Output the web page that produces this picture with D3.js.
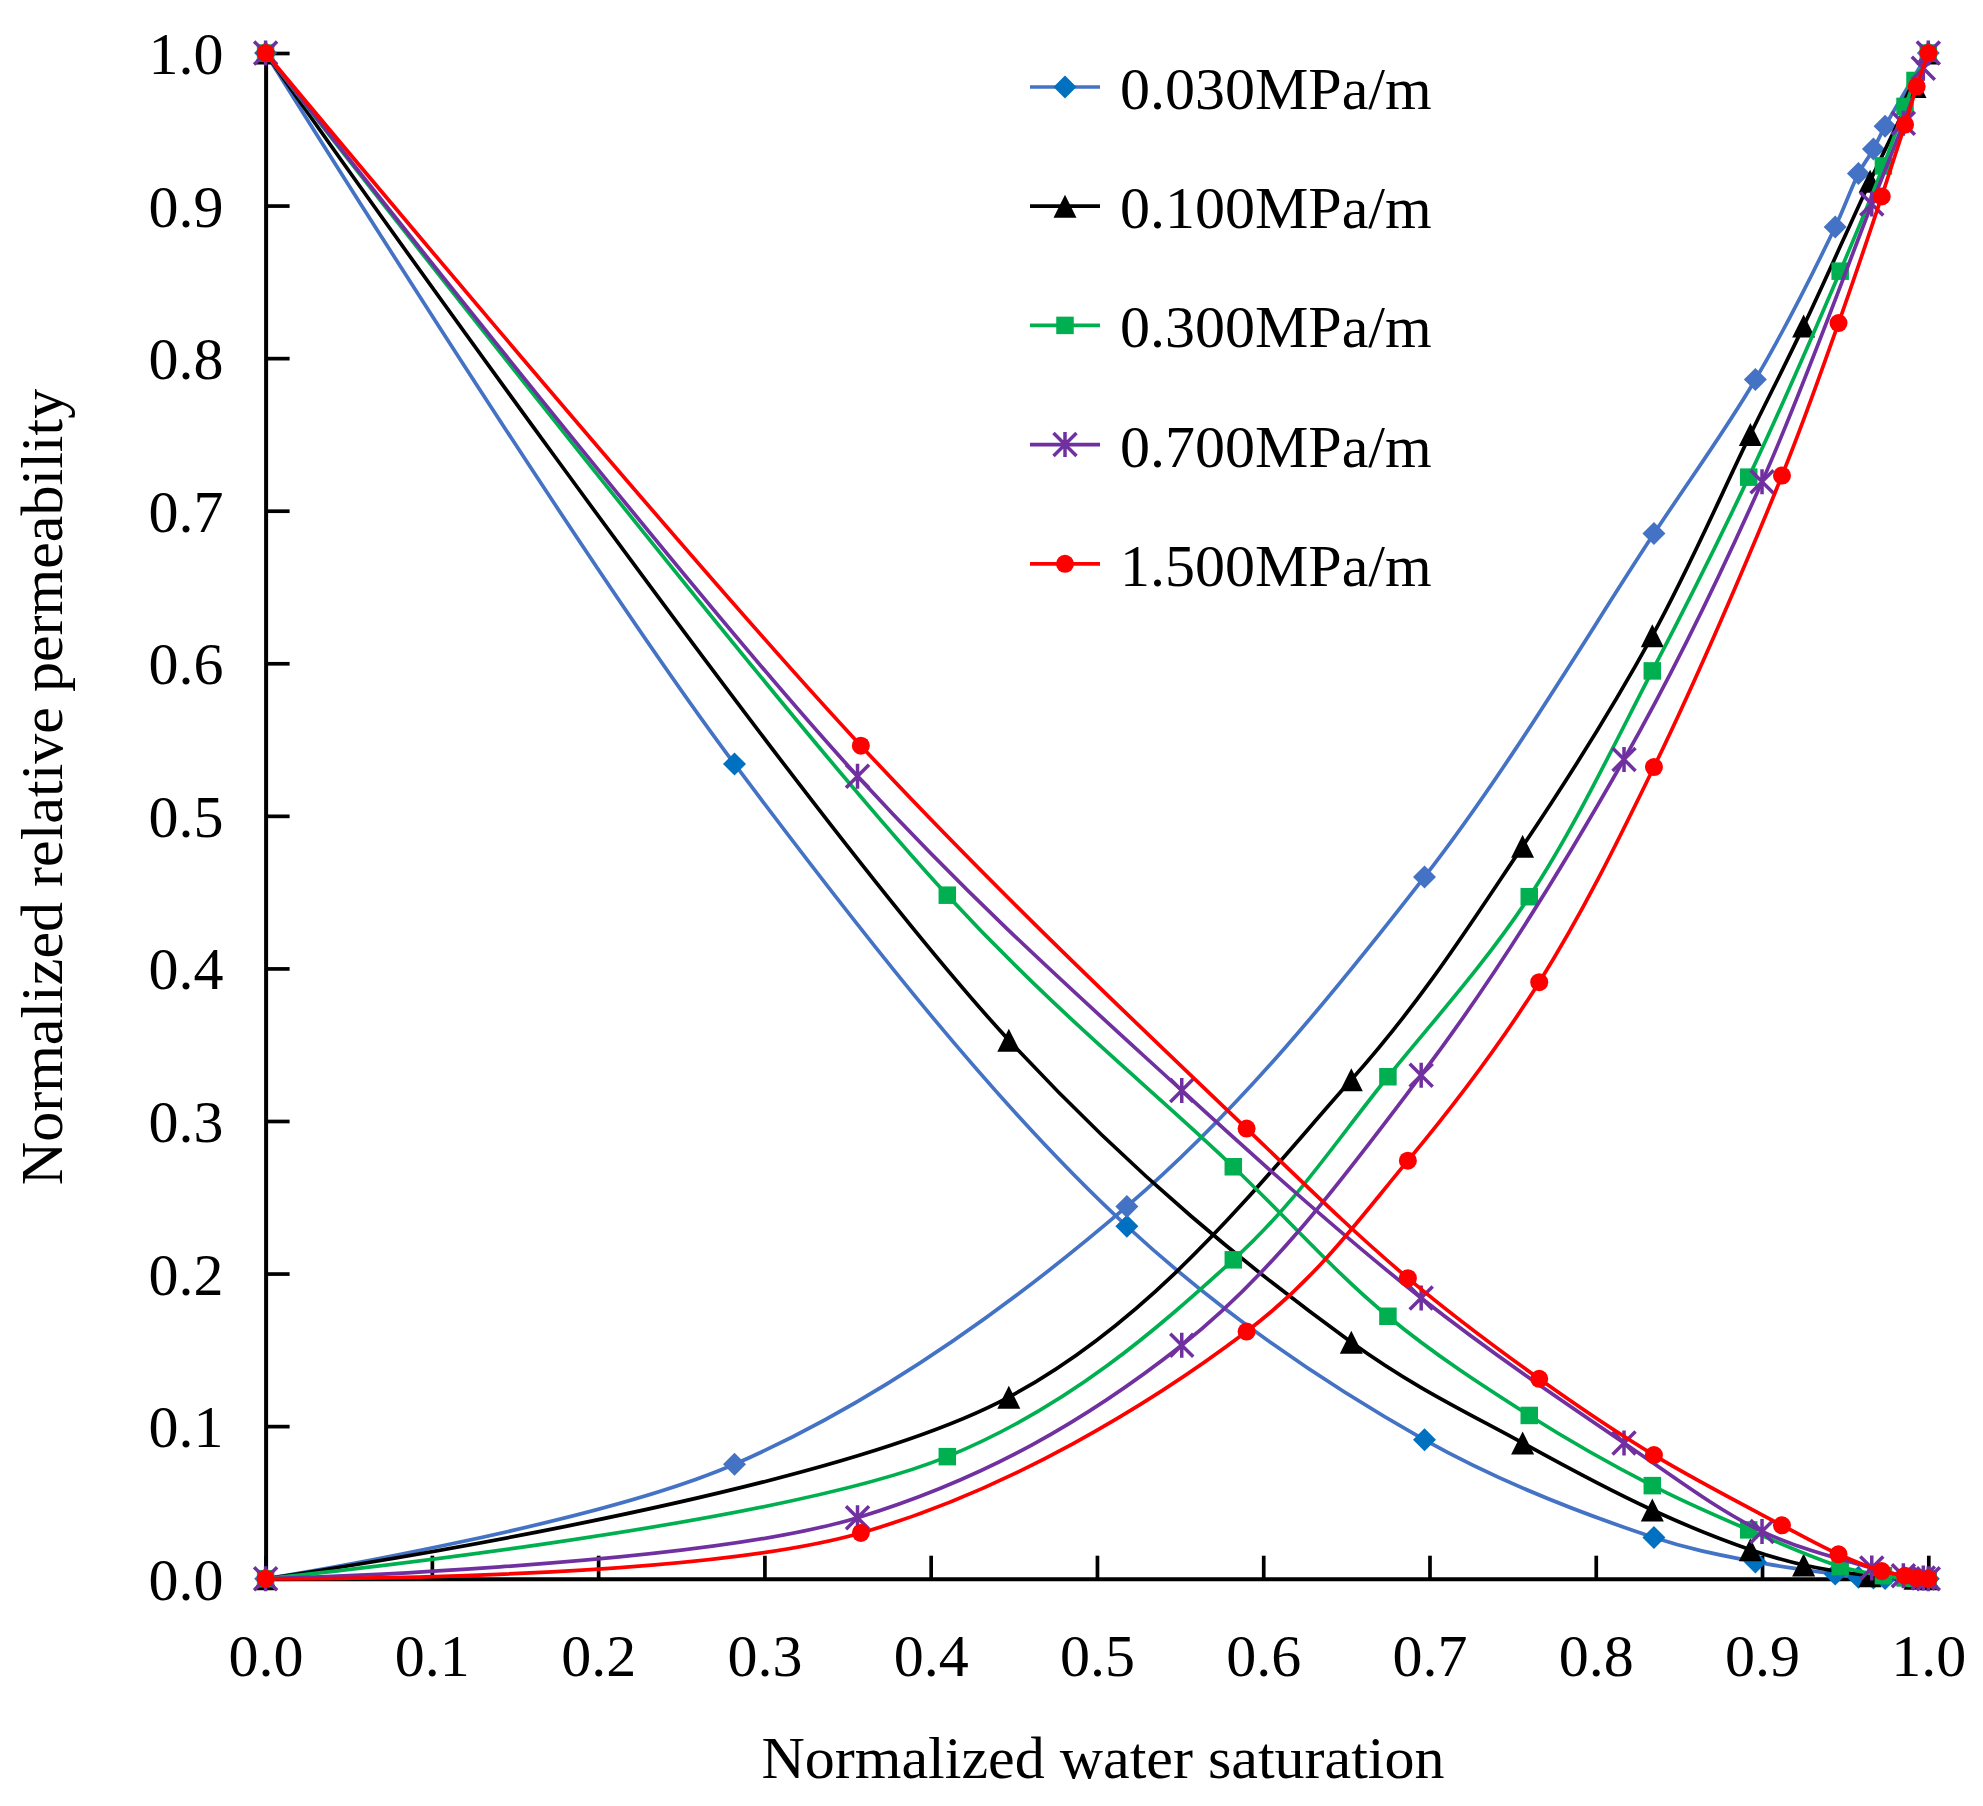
<!DOCTYPE html>
<html><head><meta charset="utf-8">
<script src="https://cdn.jsdelivr.net/npm/d3@7"></script>
<style>html,body{margin:0;padding:0;background:#fff;}svg{display:block;}</style>
</head><body>
<svg id="chart" width="1983" height="1806"></svg>
<script>
// ---- data ----
const seriesNames = ["0.030MPa/m", "0.100MPa/m", "0.300MPa/m", "0.700MPa/m", "1.500MPa/m"];
const xTicks = [0, 0.1, 0.2, 0.3, 0.4, 0.5, 0.6, 0.7, 0.8, 0.9, 1.0];
const yTicks = [0, 0.1, 0.2, 0.3, 0.4, 0.5, 0.6, 0.7, 0.8, 0.9, 1.0];

const sw030 = [0, 0.282, 0.518, 0.697, 0.835, 0.896, 0.944, 0.958, 0.967, 0.974, 1.0];
const krw030 = [0, 0.075, 0.244, 0.460, 0.685, 0.786, 0.886, 0.921, 0.937, 0.952, 1.0];
const kro030 = [1.0, 0.534, 0.231, 0.091, 0.027, 0.011, 0.003, 0.001, 0.0005, 0.0002, 0];

const sw100 = [0, 0.447, 0.653, 0.756, 0.834, 0.893, 0.925, 0.965, 0.992, 1.0];
const krw100 = [0, 0.119, 0.327, 0.480, 0.618, 0.750, 0.821, 0.916, 0.978, 1.0];
const kro100 = [1.0, 0.353, 0.155, 0.089, 0.045, 0.019, 0.009, 0.002, 0.0003, 0];

const sw300 = [0, 0.410, 0.582, 0.675, 0.760, 0.834, 0.892, 0.947, 0.973, 0.986, 0.992, 1.0];
const krw300 = [0, 0.080, 0.209, 0.329, 0.447, 0.595, 0.722, 0.857, 0.926, 0.965, 0.982, 1.0];
const kro300 = [1.0, 0.448, 0.270, 0.172, 0.107, 0.061, 0.032, 0.008, 0.002, 0.0005, 0.0002, 0];

const sw700 = [0, 0.356, 0.551, 0.695, 0.817, 0.900, 0.966, 0.985, 0.997, 1.0];
const krw700 = [0, 0.040, 0.153, 0.330, 0.537, 0.719, 0.901, 0.954, 0.990, 1.0];
const kro700 = [1.0, 0.526, 0.320, 0.184, 0.089, 0.031, 0.007, 0.002, 0.0005, 0];

const sw1500 = [0, 0.358, 0.590, 0.687, 0.766, 0.835, 0.912, 0.946, 0.972, 0.986, 0.993, 1.0];
const krw1500 = [0, 0.030, 0.162, 0.274, 0.391, 0.532, 0.723, 0.823, 0.906, 0.953, 0.978, 1.0];
const kro1500 = [1.0, 0.546, 0.295, 0.197, 0.131, 0.081, 0.035, 0.016, 0.005, 0.002, 0.0005, 0];

// ---- styles ----
const styles = [
  {line: "#4472C4", markerKro: "#0070C0", markerKrw: "#4472C4", marker: "diamond"},
  {line: "#000000", markerKro: "#000000", markerKrw: "#000000", marker: "triangle"},
  {line: "#00B050", markerKro: "#00B050", markerKrw: "#00B050", marker: "square"},
  {line: "#7030A0", markerKro: "#7030A0", markerKrw: "#7030A0", marker: "star"},
  {line: "#FF0000", markerKro: "#FF0000", markerKrw: "#FF0000", marker: "circle"}
];
const series = [
  {sw: sw030, krw: krw030, kro: kro030},
  {sw: sw100, krw: krw100, kro: kro100},
  {sw: sw300, krw: krw300, kro: kro300},
  {sw: sw700, krw: krw700, kro: kro700},
  {sw: sw1500, krw: krw1500, kro: kro1500}
];

const FONT = "'Liberation Serif','Times New Roman',serif";
const svg = d3.select("#chart");
svg.append("rect").attr("width", 1983).attr("height", 1806).attr("fill", "#fff");

const x = d3.scaleLinear().domain([0, 1]).range([265.6, 1928.3]);
const y = d3.scaleLinear().domain([0, 1]).range([1578.7, 53]);

// axes
const xAxis = d3.axisBottom(x).tickValues(xTicks).tickFormat(d3.format(".1f"))
  .tickSizeInner(-23).tickSizeOuter(0);
const gx = svg.append("g").attr("transform", `translate(0,${y(0)})`).call(xAxis);
gx.select(".domain").attr("stroke", "#000").attr("stroke-width", 4);
gx.selectAll(".tick line").attr("stroke", "#000").attr("stroke-width", 3.7);
gx.selectAll(".tick text").attr("y", 97).attr("dy", null)
  .attr("font-family", FONT).attr("font-size", 60).attr("fill", "#000");

const yAxis = d3.axisLeft(y).tickValues(yTicks).tickFormat(d3.format(".1f"))
  .tickSizeInner(-24).tickSizeOuter(0);
const gy = svg.append("g").attr("transform", `translate(${x(0)},0)`).call(yAxis);
gy.select(".domain").attr("stroke", "#000").attr("stroke-width", 4);
gy.selectAll(".tick line").attr("stroke", "#000").attr("stroke-width", 3.7);
gy.selectAll(".tick text").attr("x", -42).attr("dy", null).attr("y", 20.5)
  .attr("font-family", FONT).attr("font-size", 60).attr("fill", "#000");
svg.selectAll(".domain").attr("stroke-linecap", "square");

// axis titles
svg.append("text").attr("x", 1103).attr("y", 1778).attr("text-anchor", "middle")
  .attr("font-family", FONT).attr("font-size", 60).text("Normalized water saturation");
svg.append("text").attr("transform", "translate(62,787) rotate(-90)").attr("text-anchor", "middle")
  .attr("font-family", FONT).attr("font-size", 60).text("Normalized relative permeability");

// markers
function drawMarker(g, type, cx, cy, color) {
  if (type === "diamond") {
    const r = 11.5;
    g.append("path").attr("d", `M${cx},${cy - r}L${cx + r},${cy}L${cx},${cy + r}L${cx - r},${cy}Z`).attr("fill", color);
  } else if (type === "triangle") {
    const w = 23, h = 23;
    g.append("path").attr("d", `M${cx},${cy - h / 2}L${cx + w / 2},${cy + h / 2}L${cx - w / 2},${cy + h / 2}Z`).attr("fill", color);
  } else if (type === "square") {
    const s = 17.5;
    g.append("rect").attr("x", cx - s / 2).attr("y", cy - s / 2).attr("width", s).attr("height", s).attr("fill", color);
  } else if (type === "circle") {
    g.append("circle").attr("cx", cx).attr("cy", cy).attr("r", 9).attr("fill", color);
  } else if (type === "star") {
    const r = 11.5;
    g.append("path").attr("d",
      `M${cx - r},${cy - r}L${cx + r},${cy + r}M${cx + r},${cy - r}L${cx - r},${cy + r}M${cx},${cy - r - 1}L${cx},${cy + r + 1}`)
      .attr("stroke", color).attr("stroke-width", 3.5).attr("fill", "none");
  }
}

const line = d3.line().x(d => x(d[0])).y(d => y(d[1])).curve(d3.curveCatmullRom.alpha(0.5));

const plot = svg.append("g");
series.forEach((s, i) => {
  const st = styles[i];
  ["kro", "krw"].forEach(k => {
    const pts = s.sw.map((v, j) => [v, s[k][j]]);
    const g = plot.append("g");
    g.append("path").attr("d", line(pts)).attr("fill", "none")
      .attr("stroke", st.line).attr("stroke-width", 3.7);
    pts.forEach(p => drawMarker(g, st.marker, x(p[0]), y(p[1]), k === "kro" ? st.markerKro : st.markerKrw));
  });
});

// legend
const legY0 = 87, legDY = 119.2;
seriesNames.forEach((name, i) => {
  const st = styles[i];
  const ly = legY0 + i * legDY;
  const g = svg.append("g");
  g.append("line").attr("x1", 1030).attr("x2", 1100).attr("y1", ly).attr("y2", ly)
    .attr("stroke", st.line).attr("stroke-width", 3.7);
  drawMarker(g, st.marker, 1065, ly, st.markerKro);
  g.append("text").attr("x", 1120).attr("y", ly + 22).attr("font-family", FONT)
    .attr("font-size", 60).attr("fill", "#000").text(name);
});
</script>
</body></html>
